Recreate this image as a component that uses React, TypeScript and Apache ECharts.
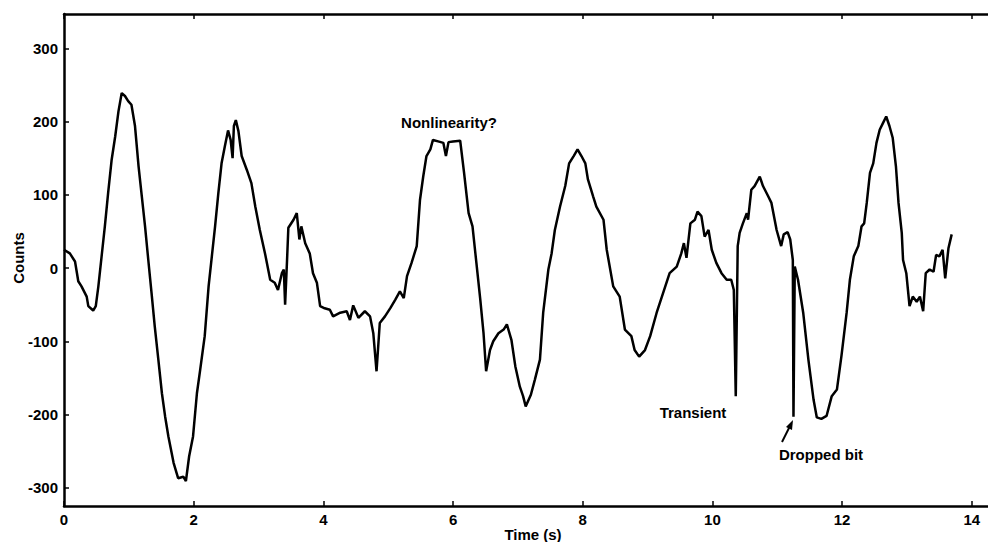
import React, { useEffect, useRef } from "react";
import * as echarts from "echarts";

const timeS: number[] = [
  0, 0.09, 0.17, 0.2, 0.22, 0.27, 0.35, 0.375, 0.45, 0.49, 0.53, 0.58, 0.63, 0.68, 0.735, 0.79, 0.84, 0.89, 0.94, 0.99,
  1.04, 1.095, 1.15, 1.2, 1.25, 1.3, 1.35, 1.4, 1.455, 1.51, 1.56, 1.61, 1.69, 1.76, 1.84, 1.88, 1.93, 1.99,
  2.05, 2.1, 2.17, 2.23, 2.28, 2.33, 2.38, 2.43, 2.48, 2.53, 2.57, 2.6, 2.62, 2.65, 2.69, 2.74, 2.82, 2.89, 2.95,
  3.02, 3.1, 3.18, 3.25, 3.3, 3.36, 3.39, 3.41, 3.44, 3.46, 3.54, 3.59, 3.63, 3.66, 3.72, 3.79, 3.84, 3.9, 3.95,
  4.02, 4.1, 4.15, 4.26, 4.36, 4.41, 4.46, 4.54, 4.64, 4.72, 4.77, 4.82, 4.87, 4.95,
  5.03, 5.11, 5.18, 5.24, 5.29, 5.36, 5.44, 5.49, 5.54, 5.59, 5.65, 5.69, 5.77, 5.85, 5.89, 5.93,
  6.0, 6.11, 6.17, 6.24, 6.3, 6.36, 6.42, 6.47, 6.51, 6.57, 6.62, 6.7, 6.78, 6.83, 6.9, 6.96,
  7.03, 7.08, 7.12, 7.2, 7.26, 7.34, 7.39, 7.47, 7.52, 7.57, 7.65, 7.73, 7.79, 7.86, 7.92, 7.98,
  8.04, 8.08, 8.16, 8.21, 8.32, 8.37, 8.47, 8.57, 8.65, 8.75, 8.8, 8.87, 8.96,
  9.04, 9.14, 9.24, 9.34, 9.45, 9.52, 9.56, 9.6, 9.66, 9.73, 9.77, 9.83, 9.88, 9.94, 9.99,
  10.06, 10.14, 10.22, 10.29, 10.33, 10.36, 10.39, 10.42, 10.47, 10.53, 10.55, 10.6, 10.65, 10.73, 10.78, 10.86, 10.91, 10.99,
  11.06, 11.1, 11.16, 11.2, 11.24, 11.25, 11.27, 11.32, 11.4, 11.48, 11.56, 11.61, 11.68, 11.76, 11.84, 11.92, 11.99,
  12.07, 12.12, 12.18, 12.25, 12.3, 12.34, 12.38, 12.43, 12.48, 12.53, 12.58, 12.63, 12.68, 12.73, 12.78, 12.83, 12.87, 12.92, 12.94, 12.99,
  13.04, 13.09, 13.15, 13.2, 13.25, 13.29, 13.35, 13.41, 13.45, 13.5, 13.55, 13.59, 13.64, 13.69,
];

const counts: number[] = [
  25, 20, 9, -7, -18, -25, -39, -52, -58, -52, -25, 16, 57, 102, 148, 180, 214, 239, 235, 228,
  223, 194, 139, 98, 57, 11, -34, -80, -125, -171, -203, -230, -266, -287, -285, -291, -257, -230,
  -171, -139, -93, -25, 16, 57, 102, 143, 166, 188, 175, 150, 194, 202, 187, 153, 134, 116, 84,
  52, 20, -16, -20, -30, -7, -2, -50, 11, 55, 66, 75, 39, 57, 34, 20, -7, -20, -52,
  -55, -57, -66, -61, -59, -71, -51, -68, -59, -66, -89, -141, -75, -66,
  -55, -43, -32, -41, -11, 7, 30, 93, 125, 153, 162, 175, 173, 171, 153, 172,
  173, 174, 130, 75, 57, 7, -43, -89, -141, -112, -100, -89, -84, -77, -98, -134,
  -162, -175, -189, -173, -153, -125, -61, -2, 20, 52, 84, 112, 143, 153, 162, 153,
  143, 121, 98, 84, 66, 25, -25, -39, -84, -93, -112, -121, -112,
  -93, -61, -34, -7, 2, 20, 34, 14, 61, 66, 77, 71, 43, 52, 25,
  7, -7, -16, -16, -30, -175, 30, 48, 61, 75, 66, 107, 112, 125, 112, 98, 89, 52,
  30, 46, 49, 39, 11, -203, 2, -16, -61, -125, -180, -204, -206, -202, -175, -166, -120,
  -61, -16, 16, 30, 57, 61, 89, 130, 143, 171, 189, 198, 207, 194, 178, 139, 89, 48, 11, -7,
  -52, -39, -46, -39, -59, -7, -2, -5, 18, 16, 25, -14, 27, 46,
];

const xTicks: number[] = [0, 2, 4, 6, 8, 10, 12, 14];
const yTicks: number[] = [-300, -200, -100, 0, 100, 200, 300];

const FONT = "'Liberation Sans', Arial, Helvetica, sans-serif";

function textStyle(text: string) {
  return { text, fill: "#000", font: `bold 15px ${FONT}`, align: "center", verticalAlign: "middle" };
}

export default function App() {
  const ref = useRef<HTMLDivElement>(null);

  useEffect(() => {
    if (!ref.current) return;
    const chart = echarts.init(ref.current, null, { renderer: "svg" });
    const data = timeS.map((t, i) => [t, counts[i]]);
    const axisLine = { show: true, onZero: false, lineStyle: { color: "#000", width: 2.5 } };
    const tick = { show: true, inside: true, length: 5, lineStyle: { color: "#000", width: 1.5 } };
    const labelStyle = { color: "#000", fontFamily: FONT, fontWeight: "bold" as const, fontSize: 15 };

    chart.setOption({
      animation: false,
      backgroundColor: "#fff",
      grid: { left: 64, right: 0, top: 14, bottom: 36, containLabel: false },
      xAxis: [
        {
          type: "value",
          position: "bottom",
          min: 0,
          max: 14.25,
          axisLine,
          axisTick: { ...tick, customValues: xTicks },
          axisLabel: { ...labelStyle, margin: 6, customValues: xTicks },
          splitLine: { show: false },
        },
        {
          type: "value",
          position: "top",
          min: 0,
          max: 14.25,
          axisLine,
          axisTick: { ...tick, customValues: xTicks },
          axisLabel: { show: false },
          splitLine: { show: false },
        },
      ],
      yAxis: {
        type: "value",
        min: -325,
        max: 347,
        axisLine,
        axisTick: { ...tick, customValues: yTicks },
        axisLabel: { ...labelStyle, margin: 6, customValues: yTicks },
        splitLine: { show: false },
      },
      series: [
        {
          type: "line",
          xAxisIndex: 0,
          data,
          showSymbol: false,
          symbol: "none",
          lineStyle: { color: "#000", width: 2.5 },
          z: 3,
        },
      ],
      graphic: [
        { type: "text", x: 449, y: 122, style: textStyle("Nonlinearity?") },
        { type: "text", x: 693, y: 412, style: textStyle("Transient") },
        { type: "text", x: 821, y: 454, style: textStyle("Dropped bit") },
        { type: "text", x: 533, y: 534, style: textStyle("Time (s)") },
        { type: "text", x: 18, y: 258, rotation: Math.PI / 2, style: textStyle("Counts") },
        {
          type: "line",
          shape: { x1: 782, y1: 442, x2: 790, y2: 426 },
          style: { stroke: "#000", lineWidth: 2 },
        },
        {
          type: "polygon",
          shape: { points: [[793, 420], [786, 427], [792, 430]] },
          style: { fill: "#000" },
        },
      ],
    });

    return () => chart.dispose();
  }, []);

  return <div ref={ref} style={{ width: 988, height: 542, position: "absolute", left: 0, top: 0 }} />;
}
